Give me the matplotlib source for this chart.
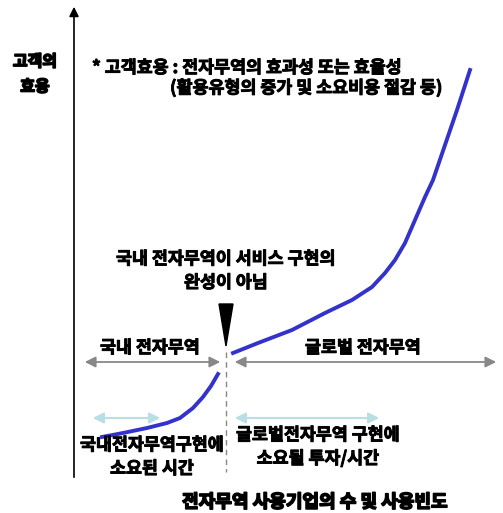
import numpy as np
import matplotlib.pyplot as plt
import matplotlib.patheffects as pe
from matplotlib.patches import Polygon

plt.rcParams['font.family'] = ['Noto Sans CJK KR', 'DejaVu Sans']

# curve before the break (domestic e-trade)
dom_x = [102, 123, 147, 167, 180, 193, 203, 211, 218]
dom_y = [437, 433, 428, 423, 418, 408, 397, 386, 374]
# curve after the break (global e-trade)
glo_x = [233, 258, 292, 325, 352, 372, 385, 395, 405, 415, 425, 433, 445, 457, 470]
glo_y = [353, 343, 330, 313, 300, 287, 273, 260, 243, 220, 197, 180, 145, 110, 70]

note1 = "* 고객효용 : 전자무역의 효과성 또는 효율성"
note2 = "(활용유형의 증가 및 소요비용 절감 등)"
ylab = "고객의\n효용"
xlab = "전자무역 사용기업의 수 및 사용빈도"

fig = plt.figure(figsize=(5.03, 5.13), dpi=100)
ax = fig.add_axes([0, 0, 1, 1])
ax.set_xlim(0, 503)
ax.set_ylim(513, 0)
ax.axis('off')

# axes
ax.annotate('', xy=(74, 4), xytext=(74, 480),
            arrowprops=dict(arrowstyle='-|>', color='black', lw=1.2, mutation_scale=14))
ax.annotate('', xy=(506, 479), xytext=(73, 479),
            arrowprops=dict(arrowstyle='-|>', color='black', lw=1.2, mutation_scale=14))

# dashed divider
ax.plot([226, 226], [352, 472], color='#888888', lw=1, ls=(0, (4, 3)))

# black wedge
ax.add_patch(Polygon([[219, 304], [233, 304], [226, 346]], closed=True, color='black'))

# gray range arrows
gprops = dict(arrowstyle='<|-|>', color='#888888', lw=1.3, mutation_scale=16)
ax.annotate('', xy=(82, 362), xytext=(223, 362), arrowprops=gprops)
ax.annotate('', xy=(232, 362), xytext=(499, 362), arrowprops=gprops)

# light blue time arrows
bprops = dict(arrowstyle='<|-|>', color='#b8dfe3', lw=1.5, mutation_scale=16)
ax.annotate('', xy=(90, 418), xytext=(163, 418), arrowprops=bprops)
ax.annotate('', xy=(232, 418), xytext=(382, 418), arrowprops=bprops)

# curves
ax.plot(dom_x, dom_y, color='#3333cc', lw=2.8, solid_joinstyle='round')
ax.plot(glo_x, glo_y, color='#3333cc', lw=2.8, solid_joinstyle='round')

# texts (fake bold with a thin stroke)
bold = [pe.withStroke(linewidth=0.7, foreground='black')]
heavy = [pe.withStroke(linewidth=1.2, foreground='black')]
tk = dict(fontsize=12.5, fontweight='bold', color='black', path_effects=bold)
ax.text(35, 74, ylab, ha='center', va='center', linespacing=1.7, fontsize=11.5,
        fontweight='bold', path_effects=heavy)
ax.text(92, 68, note1, ha='left', va='center', **tk)
ax.text(170, 88, note2, ha='left', va='center', **tk)
ax.text(226, 271, "국내 전자무역이 서비스 구현의\n완성이 아님", ha='center', va='center', linespacing=1.4, **tk)
ax.text(150, 348, "국내 전자무역", ha='center', va='center', **tk)
ax.text(363, 348, "글로벌 전자무역", ha='center', va='center', **tk)
ax.text(152, 457, "국내전자무역구현에\n소요된 시간", ha='center', va='center', linespacing=1.4, **tk)
ax.text(318, 447, "글로벌전자무역 구현에\n소요될 투자/시간", ha='center', va='center', linespacing=1.4, **tk)
ax.text(315, 502, xlab, ha='center', va='center', fontsize=13, fontweight='bold', path_effects=heavy)

fig.savefig('out.png', dpi=100)
